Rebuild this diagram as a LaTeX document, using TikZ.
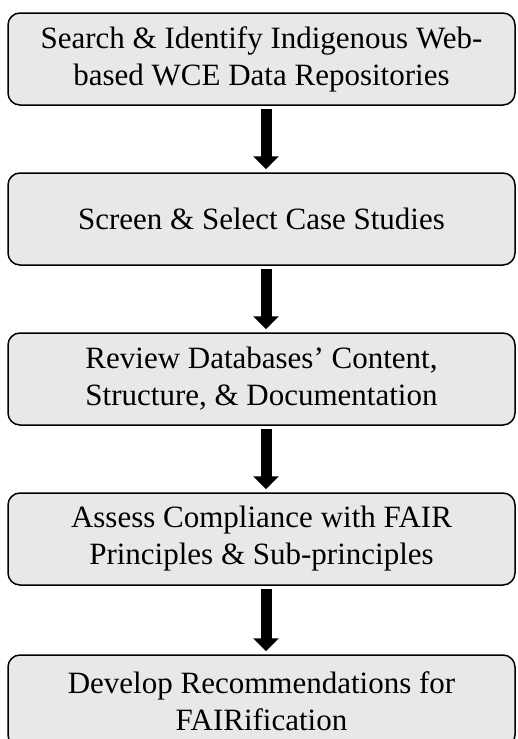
\documentclass[tikz,border=0pt]{standalone}
\usepackage{fontspec}
\setmainfont{Liberation Serif}
\usetikzlibrary{arrows.meta}
\definecolor{boxgray}{HTML}{E8E8E8}
\tikzset{
  stepbox/.style={draw,line width=1.5pt,rounded corners=12pt,fill=boxgray,
    minimum width=507pt,minimum height=92pt,inner sep=0pt,align=center,
    font=\fontsize{31}{37}\selectfont},
  flowarrow/.style={line width=11pt,-{Triangle[width=25pt,length=13pt]},
    shorten <=3pt,shorten >=3pt}
}
\begin{document}
\begin{tikzpicture}[node distance=160pt]
    \useasboundingbox (0,0) rectangle (517pt,-739pt);
    \node[stepbox] (1) at (261.5pt,-59pt) {Search \& Identify Indigenous Web-\\based WCE Data Repositories};
    \node[stepbox,below of=1] (2) {Screen \& Select Case Studies};
    \node[stepbox,below of=2] (3) {Review Databases’ Content,\\Structure, \& Documentation};
    \node[stepbox,below of=3] (4) {Assess Compliance with FAIR\\Principles \& Sub-principles};
    \node[stepbox,below of=4,yshift=-2pt] (5) {Develop Recommendations for\\FAIRification};

    \draw[flowarrow] ([xshift=4.5pt]1.south) -- ([xshift=4.5pt]2.north);
    \draw[flowarrow] ([xshift=4.5pt]2.south) -- ([xshift=4.5pt]3.north);
    \draw[flowarrow] ([xshift=4.5pt]3.south) -- ([xshift=4.5pt]4.north);
    \draw[flowarrow] ([xshift=4.5pt]4.south) -- ([xshift=4.5pt]5.north);
  \end{tikzpicture}
\end{document}
